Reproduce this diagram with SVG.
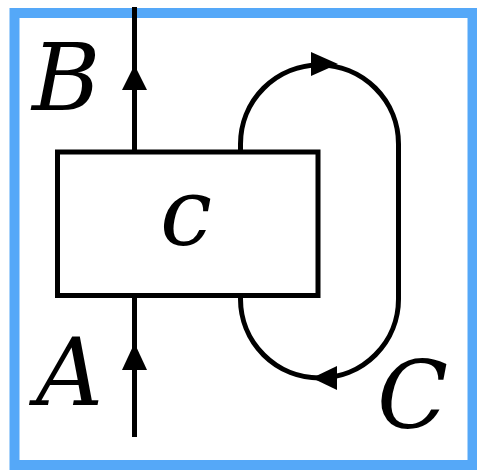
<svg xmlns="http://www.w3.org/2000/svg" width="477" height="470" viewBox="0 0 477 470">
<style>
.w{fill:none;stroke:#000;stroke-width:5}
.lbl{font-family:"DejaVu Serif","Liberation Serif",serif;font-style:italic;font-size:93px;fill:#000}
.ah{fill:#000}
</style>
<rect x="0" y="0" width="477" height="470" fill="#fff"/>
<rect x="14.5" y="13" width="458" height="452" fill="none" stroke="#55A8F8" stroke-width="10"/>
<g id="connectors">
<path class="w" d="M134.5 7 V152"/>
<path class="w" d="M134.5 296 V437"/>
<path class="w" d="M240.5 152 V144 A79 79 0 0 1 398.5 144 V299 A79 79 0 0 1 240.5 299 V296"/>
<polygon class="ah" points="134.5,65 122,90 147,90"/>
<polygon class="ah" points="134.5,343 122,370 147,370"/>
<polygon class="ah" points="338,64 311,52 311,76"/>
<polygon class="ah" points="312,378 337,366 337,390"/>
</g>
<g id="node-c">
<rect x="57.5" y="152" width="260.5" height="143.5" fill="#fff" stroke="#000" stroke-width="5"/>
<text class="lbl" x="186" y="245" text-anchor="middle">c</text>
</g>
<g id="label-B"><text class="lbl" x="32" y="110">B</text></g>
<g id="label-A"><text class="lbl" x="36" y="405">A</text></g>
<g id="label-C"><text class="lbl" x="377" y="428">C</text></g>
</svg>
